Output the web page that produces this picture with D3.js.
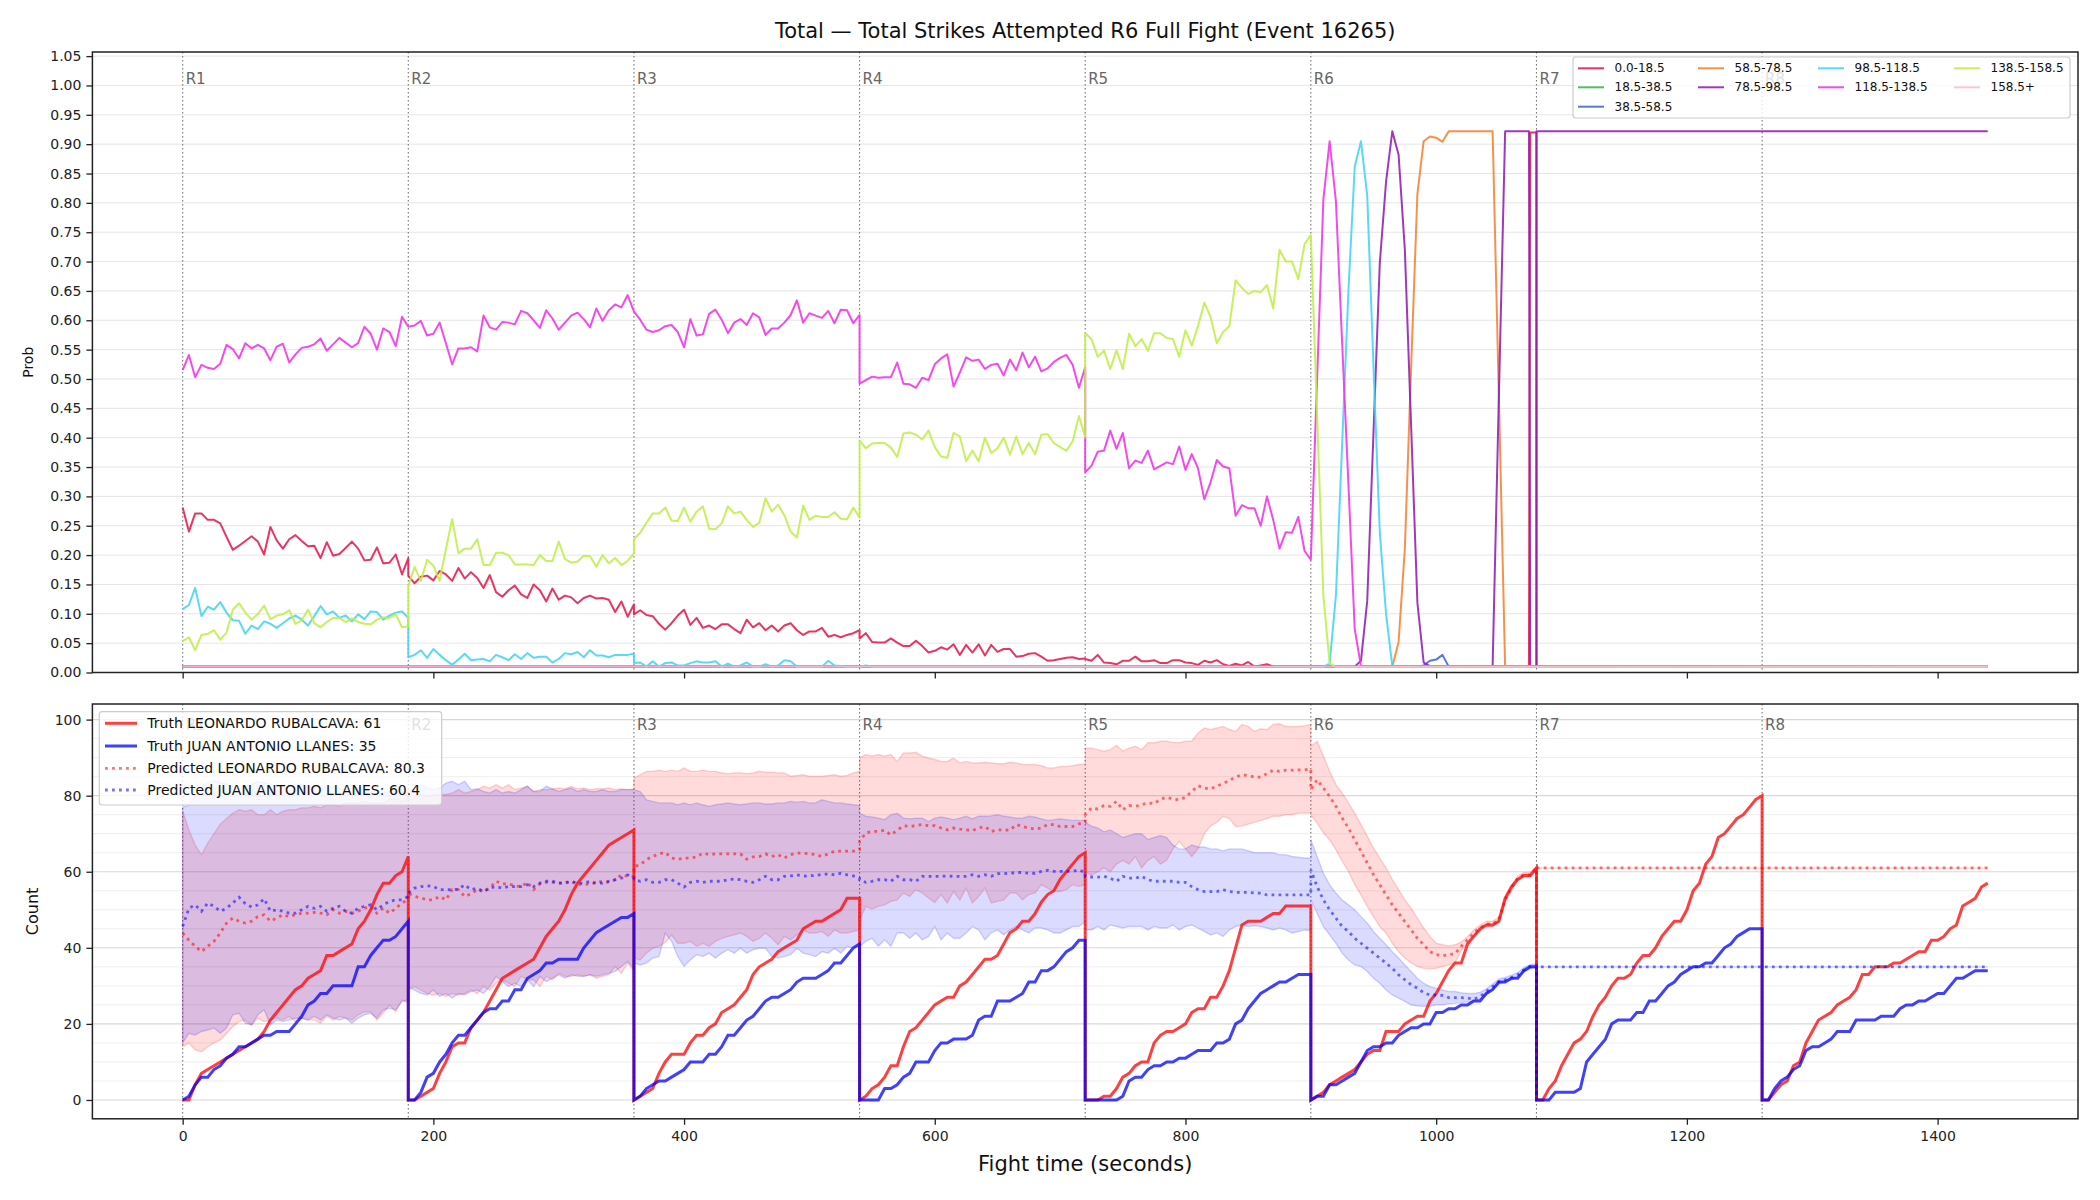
<!DOCTYPE html>
<html>
<head>
<meta charset="utf-8">
<script src="https://cdn.jsdelivr.net/npm/d3@7"></script>
<style>
  body { margin: 0; background: #fff; }
  svg { font-family: "DejaVu Sans", sans-serif; }
</style>
</head>
<body>
<svg id="chart" width="2100" height="1200"></svg>
<script>
// ---- data ----
const roundStarts = [0, 180, 360, 540, 720, 900, 1080, 1260];
const roundLabels = ["R1", "R2", "R3", "R4", "R5", "R6", "R7", "R8"];
const binLabels = ["0.0-18.5", "18.5-38.5", "38.5-58.5", "58.5-78.5", "78.5-98.5",
  "98.5-118.5", "118.5-138.5", "138.5-158.5", "158.5+"];
const binColors = ["#e6194b", "#3cb44b", "#4363d8", "#f58231", "#911eb4",
  "#42d4f4", "#f032e6", "#bfef45", "#fabed4"];
const xTicks = [0, 200, 400, 600, 800, 1000, 1200, 1400];
const probTicks = d3.range(0, 22).map(i => i * 0.05);
const countTicks = [0, 20, 40, 60, 80, 100];

// values every 5 s from a round start
const t5 = (t0, vals) => vals.map((v, i) => [t0 + 5 * i, v]);

// probability per bin
const probRed = [
  ...t5(0, [0.281,0.240,0.271,0.271,0.260,0.260,0.254,0.231,0.209,0.216,0.224,0.232,0.223,0.201,0.248,0.225,0.211,0.227,0.234,0.224,0.215,0.216,0.195,0.222,0.199,0.202,0.212,0.223,0.211,0.191,0.192,0.213,0.186,0.187,0.201,0.167,0.195]),
  ...t5(180, [0.165,0.152,0.163,0.165,0.157,0.173,0.167,0.156,0.178,0.160,0.171,0.161,0.144,0.166,0.137,0.129,0.140,0.148,0.133,0.127,0.150,0.140,0.121,0.143,0.124,0.131,0.128,0.118,0.127,0.131,0.126,0.127,0.124,0.103,0.121,0.095,0.116]),
  ...t5(360, [0.099,0.106,0.098,0.096,0.083,0.073,0.084,0.097,0.107,0.081,0.093,0.076,0.080,0.074,0.082,0.082,0.074,0.067,0.090,0.077,0.084,0.072,0.080,0.070,0.080,0.084,0.072,0.064,0.070,0.070,0.076,0.061,0.064,0.060,0.064,0.067,0.072]),
  ...t5(540, [0.058,0.067,0.052,0.051,0.051,0.058,0.051,0.045,0.045,0.054,0.045,0.034,0.037,0.043,0.039,0.048,0.030,0.047,0.034,0.048,0.029,0.047,0.035,0.040,0.040,0.027,0.028,0.032,0.033,0.027,0.020,0.021,0.023,0.025,0.026,0.023,0.024]),
  ...t5(720, [0.023,0.020,0.030,0.017,0.016,0.014,0.020,0.020,0.027,0.019,0.019,0.021,0.016,0.016,0.021,0.021,0.017,0.016,0.013,0.020,0.017,0.021,0.014,0.011,0.015,0.012,0.018,0.010,0.012,0.014,0.010,0.010,0.010,0.010,0.010,0.010,0.010]),
  [1074, 0.01], [1075, 0.92], [1080, 0.92], [1080, 0.01], [1440, 0.01]
];
const probGreen = [[0, 0.01], [1440, 0.01]];
const probBlue = [[0, 0.01], [985, 0.01], [990, 0.012], [995, 0.02], [1000, 0.022], [1005, 0.03], [1010, 0.01], [1440, 0.01]];
const probOrange = [[0, 0.01], [965, 0.01], [970, 0.052], [975, 0.211], [980, 0.52], [985, 0.815], [990, 0.905],
  [995, 0.913], [1000, 0.911], [1005, 0.904], [1010, 0.922], [1045, 0.922], [1050, 0.47], [1055, 0.01], [1440, 0.01]];
const probPurple = [[0, 0.01], [935, 0.01], [940, 0.02], [945, 0.122], [950, 0.41], [955, 0.697], [960, 0.836],
  [965, 0.922], [970, 0.882], [975, 0.72], [980, 0.42], [985, 0.119], [990, 0.017], [995, 0.011], [1045, 0.01],
  [1050, 0.47], [1055, 0.922], [1074, 0.922], [1075, 0.01], [1080, 0.01], [1080, 0.922], [1440, 0.922]];
const probCyan = [
  ...t5(0, [0.108,0.115,0.144,0.096,0.112,0.107,0.120,0.102,0.089,0.088,0.066,0.080,0.074,0.087,0.083,0.076,0.084,0.092,0.097,0.090,0.080,0.096,0.113,0.099,0.104,0.093,0.097,0.087,0.099,0.091,0.104,0.103,0.090,0.097,0.102,0.104,0.093]),
  ...t5(180, [0.026,0.030,0.038,0.025,0.040,0.030,0.021,0.013,0.022,0.032,0.021,0.022,0.023,0.019,0.030,0.026,0.021,0.031,0.023,0.033,0.025,0.027,0.027,0.017,0.023,0.033,0.031,0.035,0.026,0.038,0.029,0.029,0.026,0.030,0.030,0.030,0.032]),
  ...t5(360, [0.016,0.017,0.010,0.019,0.010,0.016,0.017,0.012,0.012,0.016,0.019,0.017,0.017,0.019,0.010,0.015,0.010,0.012,0.017,0.010,0.010,0.014,0.010,0.012,0.021,0.019,0.010,0.010,0.010,0.010,0.010,0.020,0.012,0.011,0.010,0.010,0.010]),
  [545, 0.012], [550, 0.01], [910, 0.01], [915, 0.015], [920, 0.131], [925, 0.39], [930, 0.651], [935, 0.861],
  [940, 0.905], [945, 0.812], [950, 0.52], [955, 0.239], [960, 0.10], [965, 0.011], [1440, 0.01]
];
const probMagenta = [
  ...t5(0, [0.515,0.541,0.503,0.524,0.519,0.517,0.526,0.558,0.551,0.535,0.561,0.552,0.558,0.552,0.532,0.555,0.560,0.528,0.542,0.553,0.555,0.559,0.569,0.548,0.559,0.570,0.562,0.554,0.561,0.589,0.577,0.550,0.586,0.580,0.556,0.606,0.589]),
  ...t5(180, [0.589,0.591,0.599,0.574,0.577,0.596,0.561,0.525,0.552,0.552,0.554,0.547,0.608,0.588,0.584,0.597,0.596,0.593,0.616,0.612,0.600,0.587,0.617,0.603,0.584,0.596,0.608,0.613,0.602,0.588,0.620,0.599,0.617,0.627,0.622,0.643,0.615]),
  ...t5(360, [0.615,0.601,0.584,0.580,0.583,0.590,0.592,0.580,0.554,0.602,0.574,0.576,0.611,0.618,0.601,0.578,0.596,0.602,0.592,0.612,0.605,0.575,0.586,0.586,0.596,0.609,0.634,0.596,0.612,0.608,0.604,0.616,0.595,0.618,0.617,0.595,0.609]),
  ...t5(540, [0.492,0.498,0.504,0.502,0.503,0.503,0.528,0.492,0.491,0.485,0.502,0.498,0.525,0.535,0.542,0.487,0.511,0.537,0.531,0.533,0.517,0.524,0.526,0.506,0.533,0.515,0.545,0.520,0.538,0.513,0.518,0.529,0.536,0.541,0.524,0.485,0.520]),
  ...t5(720, [0.341,0.352,0.376,0.378,0.412,0.381,0.408,0.348,0.361,0.357,0.378,0.346,0.352,0.358,0.355,0.385,0.345,0.372,0.348,0.295,0.324,0.362,0.351,0.348,0.267,0.285,0.280,0.280,0.250,0.300,0.260,0.211,0.239,0.238,0.265,0.207,0.192]),
  [905, 0.50], [910, 0.806], [915, 0.905], [920, 0.803], [925, 0.56], [930, 0.32], [935, 0.074], [940, 0.011], [1440, 0.01]
];
const probLime = [
  ...t5(0, [0.053,0.060,0.038,0.064,0.066,0.072,0.056,0.068,0.107,0.118,0.102,0.090,0.100,0.114,0.091,0.097,0.099,0.106,0.083,0.089,0.107,0.084,0.077,0.086,0.093,0.093,0.086,0.092,0.086,0.083,0.082,0.090,0.094,0.093,0.099,0.077,0.079]),
  ...t5(180, [0.147,0.180,0.156,0.192,0.182,0.156,0.210,0.261,0.203,0.211,0.211,0.227,0.183,0.183,0.204,0.204,0.200,0.184,0.184,0.184,0.183,0.200,0.190,0.190,0.223,0.193,0.187,0.189,0.199,0.198,0.180,0.200,0.186,0.195,0.183,0.190,0.203]),
  ...t5(360, [0.227,0.238,0.255,0.271,0.271,0.281,0.259,0.258,0.281,0.257,0.274,0.283,0.245,0.244,0.254,0.283,0.271,0.274,0.260,0.248,0.255,0.297,0.274,0.286,0.268,0.240,0.230,0.284,0.260,0.267,0.265,0.265,0.273,0.262,0.261,0.281,0.264]),
  ...t5(540, [0.395,0.382,0.390,0.391,0.391,0.383,0.367,0.407,0.409,0.405,0.397,0.412,0.384,0.368,0.366,0.408,0.402,0.360,0.378,0.360,0.400,0.374,0.382,0.400,0.371,0.402,0.372,0.391,0.372,0.405,0.406,0.391,0.384,0.378,0.394,0.437,0.401]),
  ...t5(720, [0.578,0.568,0.538,0.548,0.517,0.549,0.517,0.577,0.556,0.568,0.548,0.578,0.578,0.570,0.568,0.538,0.583,0.557,0.590,0.630,0.606,0.561,0.580,0.590,0.668,0.655,0.645,0.650,0.648,0.660,0.620,0.720,0.700,0.700,0.670,0.730,0.745]),
  [905, 0.44], [910, 0.131], [915, 0.015], [920, 0.01], [1440, 0.01]
];
const probPink = [[0, 0.01], [1440, 0.01]];
const probSeries = [probRed, probGreen, probBlue, probOrange, probPurple, probCyan, probMagenta, probLime, probPink];

// truth counts per round (every 5 s)
const truthRedRounds = [
  [0,0,4,7,8,9,10,11,12,13,14,15,16,18,21,23,25,27,29,30,32,33,34,38,38,39,40,41,45,47,50,54,57,57,59,60,64],
  [0,0,1,2,3,7,10,14,15,15,19,21,23,26,29,32,33,34,35,36,37,40,43,45,47,50,54,57,59,61,63,65,67,68,69,70,71],
  [0,1,2,3,7,10,12,12,12,15,17,17,19,20,23,24,25,27,29,33,35,36,37,39,40,41,42,45,46,47,47,48,49,50,53,53,53],
  [0,1,3,4,6,9,9,14,18,19,21,23,25,26,27,27,30,31,33,35,37,37,38,41,44,45,47,47,49,52,54,55,58,60,62,64,65],
  [0,0,0,1,1,3,6,7,9,10,10,15,17,18,18,19,20,23,24,24,27,27,30,34,40,46,47,47,47,48,49,49,51,51,51,51,51],
  [0,1,2,4,5,6,7,8,10,12,13,13,18,18,18,20,21,22,22,26,28,31,34,36,36,41,43,45,46,46,47,53,56,58,59,59,61],
  [0,0,3,5,9,12,15,16,18,22,25,27,30,32,32,33,36,38,38,40,43,45,47,47,50,55,57,62,64,69,70,72,74,75,77,79,80],
  [0,0,2,4,5,9,10,15,18,21,22,23,25,26,27,29,33,33,35,35,35,36,36,37,38,39,39,42,42,43,45,46,51,52,53,56,57]
];
const truthBlueRounds = [
  [0,1,4,6,6,8,9,11,12,14,14,15,16,17,17,18,18,18,20,22,25,26,28,28,30,30,30,30,35,35,38,40,42,42,43,45,47],
  [0,0,2,6,7,10,12,15,17,17,19,21,23,24,24,26,26,29,29,32,33,34,36,36,37,37,37,37,40,42,44,45,46,47,48,48,49],
  [0,1,3,4,5,5,6,7,8,10,10,10,12,12,14,17,17,19,21,22,24,26,27,27,28,29,31,32,32,32,33,34,36,36,38,40,41],
  [0,0,0,0,3,3,4,6,7,10,10,10,13,15,15,16,16,16,17,21,22,22,26,26,26,27,28,31,31,34,34,35,37,39,40,42,42],
  [0,0,0,0,0,0,1,5,6,6,8,9,9,10,10,11,11,12,13,13,13,15,15,16,20,21,24,26,28,29,30,31,31,32,33,33,33],
  [0,1,1,4,4,5,6,7,10,13,14,14,15,15,17,18,19,19,20,20,23,23,24,24,25,25,26,26,28,29,31,31,32,32,34,35,35],
  [0,0,0,2,2,2,2,3,10,12,14,16,20,21,21,21,23,23,26,26,28,30,31,33,34,35,35,36,36,38,40,41,43,44,45,45,45],
  [0,0,3,5,6,8,9,13,14,14,15,16,18,18,18,21,21,21,21,22,22,22,24,25,25,26,26,27,28,28,30,32,32,33,34,34,34]
];

// predictions and bands, rounds 1-6, then fixed after the fight
const predRedRounds = [
  [43.9,42,40.4,39,40.4,41.7,43.9,46.5,47.8,47,46.5,47,48.2,48.7,47,47.8,48.7,48.2,48.7,49.1,49.1,49.3,49.1,48.7,50,49.1,49.6,49.1,49.6,50.4,50.9,49.1,50.4,49.1,50.4,51.8,52.6],
  [54.4,53.5,53.1,52.6,52.6,53.5,52.6,55.3,55.3,53.5,54.2,55.3,54.8,55.7,57.5,56.8,56.8,56.3,56.1,57.2,55.3,56.8,57.2,57.2,57,57.2,57.5,56.6,56.8,56.6,57.2,57.5,57.2,57.9,59.2,58.8,58.8],
  [61.4,61.8,63.2,64,64.7,65.1,63.6,63.3,63.6,63.6,63.9,64.9,64.5,64.7,64.7,64.7,64.7,64.7,63.3,63.9,64,64.7,64,64.5,63.6,64.5,64.9,64.9,64.7,64.5,64,64.7,65.4,65.4,65.4,65.4,65.8],
  [68,70.2,70.6,70.6,70.9,69.7,70.9,72.1,71.9,72.1,72.4,72.1,72.1,71.5,71,71.5,71.2,71,70.8,71.5,71.9,70.6,71,71,70.9,72.4,71.9,71.5,71.2,71.5,72.4,72.4,71.9,71.9,71.9,72.6,73],
  [75,76.8,76.5,77.4,77.2,78.5,76.3,77.4,77.2,77.6,78.1,77.9,79.1,79.6,79.1,78.9,79.6,81.1,82.6,82,81.8,82.5,83.2,84,84.9,85.5,85.3,84.9,84.9,85.8,86.7,86.4,86.7,86.7,86.8,86.8,87],
  [81.6,84.2,82,79.8,77.2,74.1,71.5,68.4,65.4,62.3,59.2,56.6,53.9,51.3,49.1,46.9,44.7,42.5,40.8,39,38.2,37.9,38.2,38.4,40.4,42.1,43.9,45.2,46.3,46.3,47.4,52.6,55.7,58.3,59.2,59.2,61]
];
const predBlueRounds = [
  [45.6,50.4,51.3,49.6,51.8,50.9,49.6,50.4,51.8,53.3,51.6,50.7,51.3,52.9,49.6,50,49.6,49.1,49.1,50,50.9,50.4,50.9,49.6,50.4,50.9,49.6,49.1,50.4,50.9,51.3,50,51.3,52.2,52.6,52.6,53.5],
  [54.4,55.7,56.1,56.3,56.1,55.3,55.3,55.3,55.4,56.6,55.3,55.7,54.8,55.7,56.1,55.7,56.1,56.1,56.1,56.6,56.1,57,57.5,57.5,57,57,57.5,57,57,57.5,57,57,57.5,57.9,58.3,59.2,58.3],
  [57.9,57.5,57.9,57.2,57.2,57.9,57.9,57,56,57.2,57.5,57.2,57.5,57.5,57.5,57.9,58.1,57.9,57.5,57.2,57.9,58.8,57.9,57.9,58.8,58.9,59.2,58.9,58.8,59.2,59.2,59.5,59.2,59.6,59.2,58.9,58.3],
  [57.9,57.2,57.5,57.9,57.9,57.5,58.8,57.9,57.9,57.5,58.8,58.8,58.8,58.8,58.9,58.8,58.8,58.8,59.2,58.8,59.2,58.8,59.5,59.5,59.6,59.8,59.8,59.6,59.6,60.1,60.4,60.1,60.1,60.1,60.1,60.5,59.8],
  [58.8,58.6,58.6,58.8,58.3,57.5,58.8,58.3,58.3,58.8,57.9,57.5,57.5,57.5,57.5,57.2,57.2,56.1,55.3,54.8,54.8,54.8,55.3,54.8,54.6,54.6,54.6,54.4,54.4,53.9,53.9,53.9,53.9,53.9,53.9,53.9,53.9],
  [60.5,56.1,52.6,50,47.8,45.6,44.3,42.5,41.2,39.9,38.6,37.3,36,34.6,32.9,31.6,30.3,29.4,28.2,27.6,27.6,27.5,26.9,26.9,26.9,26.8,26.5,27.2,28.5,29.8,31.1,31.6,32.2,32.9,34.2,35.1,35.3]
];
const redHiRounds = [
  [76,71,67,64.5,67.5,70,72.5,74,75.4,76.3,75.9,76.3,75,75,76.3,75,75.9,76.3,76.3,76.8,76.8,77.2,76.8,77.6,77.6,77.2,78.1,78.1,78.1,78.5,78.1,78.1,78.1,78.9,79.4,78.5,79.4],
  [79,79.8,80.3,79.8,80.3,80.3,80.3,80.7,81.6,80.7,81.1,81.6,82.5,82,82.9,82,82.9,81.6,82,82.5,81.1,81.6,81.6,81.8,82,81.8,82.5,81.8,82,81.6,81.8,81.8,82,81.6,81.8,81.6,81.8],
  [84.6,85.5,86.4,86.4,86.7,86.4,86.7,86.4,87.3,86.4,86.4,86.7,86.4,86.4,86,85.8,86,86,85.8,86,86.4,86.2,86.2,86,86,85.1,85.3,85.5,85.1,85.1,85.1,85.3,85.5,85.1,85.3,86,86.4],
  [89.9,90.8,90.4,90.8,90.4,90.8,89,91.2,91.2,91.4,90.4,89.9,89.5,89,89,89.9,88.6,89,88.6,88.6,88.8,88.6,88.4,88.4,88.8,88.6,88.2,88.2,88.2,87.9,87.3,87.3,87.7,87.7,87.9,88.2,88.4],
  [92.5,92.5,92.1,91.7,92.1,93.2,91.7,92.5,93,92.1,93.9,93.9,94.3,94.3,94,93.9,94.3,94.3,96.5,97.8,97.4,97.8,98.2,97.4,96.9,98.7,98.2,96.9,97.6,97.4,98.7,98.9,98.2,98.2,98.2,98.4,98.7],
  [93,94.3,90.4,86.4,82.9,80.7,78.1,75.4,72.4,69.3,66.2,63.6,61,57.9,55.3,52.6,50.4,47.8,45.2,43,41.2,40.8,40.5,40.8,41.5,43,44.7,46,47,47,48,53.2,56.3,58.9,59.8,59.8,61.4]
];
const redLoRounds = [
  [14,15,13.2,12.7,14,15,15.8,17.5,19.3,20.6,21,19.7,21.5,20.6,21,21.5,21,22,20.6,21.5,21,21,20.2,22,21,22,21.5,21,22.4,23.2,23.2,21,22.8,25,23.2,26.3,25.4],
  [28.9,29.8,28.9,28,27.6,28,27.2,28,27.6,28,28.9,28,29.8,28.9,30.7,31.6,30.7,29.8,32.5,31.6,31.6,29.8,32.5,31.6,33.3,32.5,32.5,32.9,32.5,32.9,32,32.5,32.9,35.1,33.3,36,33.8],
  [37.3,36.8,38.6,39.9,40.4,41.4,43.4,41.2,41.2,41.7,40.4,41.2,40.4,41.7,42.5,43,43.4,43.9,43,41.7,42.5,43.9,42.5,40.8,43,42.1,43.4,44.7,43.9,43.9,44.3,43,44.7,43.9,43.9,44.3,44.7],
  [47.4,50.9,50.2,50.9,51.3,52.2,52.6,54.4,53.5,55.3,54.4,53.1,51.9,54,51.8,54.8,52.6,55.7,51.8,53.5,55.7,51.8,52.2,52.6,54.4,54.4,52.6,54,54.4,56.6,55.7,54.8,54.8,55.3,56.6,56.1,56.6],
  [60,59,60,61,60,62,63,62,64,61,63,64,62,63,66,68,66,64,66,70,72,73,74.6,74,71.9,72,72.5,73,73.5,74,74.6,74.6,75,75,75.4,75.4,75.4],
  [75,72.8,70.2,68.4,65.8,62.8,60.1,56.6,53.9,50.9,48.2,45.6,43.9,41.2,39,37.3,36,35.1,34.6,34.4,34.6,35.1,35.5,36,39.3,41.2,43.1,44.4,45.6,45.6,46.8,52,55.1,57.7,58.6,58.6,60.6]
];
const blueHiRounds = [
  [77,77.5,80,82,83.5,84,83.5,83,82.5,82,82.5,83,83.8,83.5,83,82.5,82,82.5,83,83,82.5,82,82.5,82,82.5,82,81.5,82,82,81.5,81,81.5,81,81,80.5,81,80.7],
  [80.7,82,82.9,82,81.6,82,83.3,83.8,82.9,83.8,81.6,81.8,81.1,80.7,81.6,80.7,81.1,80.7,81.6,82.5,81.1,81.1,82.5,81.8,81.1,81.6,82,81.1,81.6,81.1,81.1,81.6,81.1,81.1,81.6,81.6,81.6],
  [81.6,81.1,78.9,78.5,78.1,78.1,78.1,77.6,78.1,77.6,78.1,77.6,77.2,77.6,77.8,78.1,77.8,77.6,77.8,78.1,78.1,77.8,77.8,78.1,78.1,78.5,78.3,78.5,78.1,78.1,78.9,78.5,78.1,78.1,77.8,77.6,77.4],
  [75.4,74.6,74.4,74.1,73.7,75,75.4,74.1,73.9,74.1,74.1,73.2,74.1,74.4,74.1,73.7,74.1,74.6,73.9,74.6,74.6,74.7,75,74.6,74.4,74.1,74.1,74.6,74.4,73.9,73.5,73.7,73.9,73.7,73.5,73.5,73.5],
  [73,72,71.5,70.5,71,70,69,69.5,70,70,68.5,69,69.5,69,67,66,66,67,66.5,66.5,66,66,65.5,66,66,66,65.5,65,65,65,65,64.5,64.5,64,63.8,63.6,63.6],
  [68.4,64,59.6,56.6,54.4,52.6,51.3,50,48.2,46.5,44.3,42.5,40.8,39,37.3,35.5,33.8,32,30.7,29.8,29.4,28.9,28.5,28.5,28.2,28,28,28.3,29.2,30.5,31.8,32.2,32.8,33.5,34.8,35.6,35.8]
];
const blueLoRounds = [
  [15,17.5,17.1,18,18.4,18.9,17.5,18.9,22.4,22.8,20.2,19.7,22.4,23.7,19.7,21,20.6,21,21.5,21.5,21,22,21,22.4,21.5,21,21.5,20.2,21.5,22.4,22.8,21.5,23.7,24.1,23.7,25.9,26.3],
  [29.8,28.9,28,27.6,28.9,27.2,28,26.8,28,27.6,28.5,28.9,28,29.8,32.5,31.1,29.8,30.7,29.8,31.6,29.8,32.5,31.1,32,32.9,32,32.9,32.5,32.5,32.9,32.5,32.9,33.3,33.8,35.1,36.4,34.6],
  [36,35.5,36,37.3,37.7,43.9,41.7,37.7,35.1,36.8,38.2,37.7,38.6,37.3,38.6,39.5,38.6,39.9,38.6,39.5,39.9,39.9,37.7,37.3,37.7,38.2,39.9,38.6,38.2,37.7,39,38.6,39.9,38.6,40.4,39.9,40.4],
  [40.4,41.7,42.5,40.4,42.1,40.4,43.9,43.9,42.5,43.9,42.1,43,45.6,42.1,43.9,42.5,42.5,43.9,45.6,44.7,42.1,43.9,44.7,43.4,44.7,45.6,44.7,43.9,45.2,45.2,44.7,43.9,43.9,44.7,45.6,45.6,46.9],
  [44.7,44.7,45.6,44.7,46,45.6,45.2,45.6,45.6,45.6,44.7,45.6,45.2,45.2,46,44.7,45.6,46,45.2,44.3,43.4,43.9,43,44.7,45.6,46,45.6,45.8,45.6,45.2,44.7,45.2,44.7,43.9,44.3,44.7,44.5],
  [52.6,49.1,45.6,43.4,41.2,38.6,36.8,35.5,35.1,33.8,32,30.7,28.9,27.6,26.8,25.9,25,24.7,24.6,24.7,25,25,25.3,25.4,25.6,25.8,26,26.5,27.8,29.1,30.4,31,31.6,32.3,33.6,34.5,34.8]
];
const finalRed = 61;
const finalBlue = 35;

// ---- build series ----
const byRounds = rs => rs.flatMap((vals, k) => t5(roundStarts[k], vals));
const withFinal = (rs, f) => [...byRounds(rs), [1080, 0], [1080, f], [1440, f]];
const truthRed = byRounds(truthRedRounds);
const truthBlue = byRounds(truthBlueRounds);
const predRed = withFinal(predRedRounds, finalRed);
const predBlue = withFinal(predBlueRounds, finalBlue);
const zipBand = (lo, hi) => lo.map((d, i) => [d[0], d[1], hi[i][1]]);
const bandRed = zipBand(withFinal(redLoRounds, finalRed), withFinal(redHiRounds, finalRed));
const bandBlue = zipBand(withFinal(blueLoRounds, finalBlue), withFinal(blueHiRounds, finalBlue));

// ---- layout ----
const svg = d3.select("#chart");
const left = 92.4, right = 2078;
const top1 = { y0: 52, y1: 672.5 };
const top2 = { y0: 704, y1: 1118.8 };
const x = d3.scaleLinear().domain([-72, 1512]).range([left, right]);
const yP = d3.scaleLinear().domain([0, 1.057]).range([top1.y1, top1.y0]);
const yC = d3.scaleLinear().domain([-4.95, 104.1]).range([top2.y1, top2.y0]);

const defs = svg.append("defs");
[["clipTop", top1], ["clipBot", top2]].forEach(([id, p]) => {
  defs.append("clipPath").attr("id", id).append("rect")
    .attr("x", left).attr("y", p.y0).attr("width", right - left).attr("height", p.y1 - p.y0);
});

svg.append("text").attr("x", (left + right) / 2).attr("y", 38).attr("text-anchor", "middle")
  .attr("font-size", 21).attr("fill", "#111")
  .text("Total \u2014 Total Strikes Attempted R6 Full Fight (Event 16265)");

// ---- top panel ----
const gTop = svg.append("g");
gTop.selectAll("line.grid").data(probTicks).join("line")
  .attr("x1", left).attr("x2", right).attr("y1", d => yP(d)).attr("y2", d => yP(d))
  .attr("stroke", "#e5e5e5").attr("stroke-width", 1);

const topData = gTop.append("g").attr("clip-path", "url(#clipTop)");
roundStarts.forEach(r => {
  topData.append("line").attr("x1", x(r)).attr("x2", x(r)).attr("y1", top1.y0).attr("y2", top1.y1)
    .attr("stroke", "#555").attr("stroke-width", 1.1).attr("stroke-dasharray", "1.5,2.5").attr("opacity", 0.8);
});
const lineP = d3.line().x(d => x(d[0])).y(d => yP(d[1]));
probSeries.forEach((s, i) => {
  topData.append("path").attr("d", lineP(s)).attr("fill", "none")
    .attr("stroke", binColors[i]).attr("stroke-width", 2).attr("stroke-opacity", 0.88)
    .attr("stroke-linejoin", "round");
});
roundStarts.forEach((r, i) => {
  gTop.append("text").attr("x", x(r) + 3).attr("y", 84).attr("font-size", 15)
    .attr("fill", "#666").text(roundLabels[i]);
});

// ---- bottom panel ----
const gBot = svg.append("g");
d3.range(0, 105, 5).forEach(v => {
  gBot.append("line").attr("x1", left).attr("x2", right).attr("y1", yC(v)).attr("y2", yC(v))
    .attr("stroke", v % 20 === 0 ? "#d8d8d8" : "#ececec").attr("stroke-width", v % 20 === 0 ? 1.1 : 0.9);
});
const botData = gBot.append("g").attr("clip-path", "url(#clipBot)");
roundStarts.forEach(r => {
  botData.append("line").attr("x1", x(r)).attr("x2", x(r)).attr("y1", top2.y0).attr("y2", top2.y1)
    .attr("stroke", "#555").attr("stroke-width", 1.1).attr("stroke-dasharray", "1.5,2.5").attr("opacity", 0.8);
});
const area = d3.area().x(d => x(d[0])).y0(d => yC(d[1])).y1(d => yC(d[2]));
const lineC = d3.line().x(d => x(d[0])).y(d => yC(d[1]));
[[bandRed, "#ff0000"], [bandBlue, "#0000ff"]].forEach(([b, c]) => {
  botData.append("path").attr("d", area(b)).attr("fill", c).attr("fill-opacity", 0.14)
    .attr("stroke", c).attr("stroke-opacity", 0.16).attr("stroke-width", 1.4);
});
botData.append("path").attr("d", lineC(truthRed)).attr("fill", "none")
  .attr("stroke", "#ff0000").attr("stroke-opacity", 0.75).attr("stroke-width", 3);
botData.append("path").attr("d", lineC(truthBlue)).attr("fill", "none")
  .attr("stroke", "#0000ff").attr("stroke-opacity", 0.75).attr("stroke-width", 3);
botData.append("path").attr("d", lineC(predRed)).attr("fill", "none")
  .attr("stroke", "#ff0000").attr("stroke-opacity", 0.55).attr("stroke-width", 2.8)
  .attr("stroke-dasharray", "2.8,4.2");
botData.append("path").attr("d", lineC(predBlue)).attr("fill", "none")
  .attr("stroke", "#0000ff").attr("stroke-opacity", 0.55).attr("stroke-width", 2.8)
  .attr("stroke-dasharray", "2.8,4.2");
roundStarts.forEach((r, i) => {
  gBot.append("text").attr("x", x(r) + 3).attr("y", 730).attr("font-size", 15)
    .attr("fill", "#666").text(roundLabels[i]);
});

// ---- frames & axes ----
[top1, top2].forEach(p => {
  svg.append("rect").attr("x", left).attr("y", p.y0).attr("width", right - left).attr("height", p.y1 - p.y0)
    .attr("fill", "none").attr("stroke", "#222").attr("stroke-width", 1.5);
});
function styleAxis(g) {
  g.select(".domain").remove();
  g.selectAll(".tick line").attr("stroke", "#222").attr("stroke-width", 1.3);
  g.selectAll(".tick text").attr("fill", "#222").attr("font-size", 14).attr("font-family", "DejaVu Sans");
}
svg.append("g").attr("transform", `translate(${left},0)`)
  .call(d3.axisLeft(yP).tickValues(probTicks).tickFormat(d3.format(".2f")).tickSize(6).tickPadding(5))
  .call(styleAxis);
svg.append("g").attr("transform", `translate(0,${top1.y1})`)
  .call(d3.axisBottom(x).tickValues(xTicks).tickFormat("").tickSize(6))
  .call(styleAxis);
svg.append("g").attr("transform", `translate(${left},0)`)
  .call(d3.axisLeft(yC).tickValues(countTicks).tickSize(6).tickPadding(5))
  .call(styleAxis);
svg.append("g").attr("transform", `translate(0,${top2.y1})`)
  .call(d3.axisBottom(x).tickValues(xTicks).tickFormat(d3.format("d")).tickSize(6).tickPadding(6))
  .call(styleAxis);

svg.append("text").attr("transform", `translate(28,${(top1.y0 + top1.y1) / 2}) rotate(-90)`)
  .attr("text-anchor", "middle").attr("dominant-baseline", "central").attr("font-size", 14)
  .attr("fill", "#111").text("Prob");
svg.append("text").attr("transform", `translate(32,${(top2.y0 + top2.y1) / 2}) rotate(-90)`)
  .attr("text-anchor", "middle").attr("dominant-baseline", "central").attr("font-size", 16)
  .attr("fill", "#111").text("Count");
svg.append("text").attr("x", (left + right) / 2).attr("y", 1171).attr("text-anchor", "middle")
  .attr("font-size", 21).attr("fill", "#111").text("Fight time (seconds)");

// ---- legends ----
const legTop = svg.append("g");
legTop.append("rect").attr("x", 1573).attr("y", 57).attr("width", 497).attr("height", 61).attr("rx", 3)
  .attr("fill", "#fff").attr("fill-opacity", 0.8).attr("stroke", "#cccccc").attr("stroke-width", 1.2);
const colX = [1578, 1698, 1818, 1954];
const rowY = [68.3, 87.3, 106.7];
const colOf = [0, 0, 0, 1, 1, 2, 2, 3, 3];
const rowOf = [0, 1, 2, 0, 1, 0, 1, 0, 1];
binLabels.forEach((lab, i) => {
  const cx = colX[colOf[i]], cy = rowY[rowOf[i]];
  legTop.append("line").attr("x1", cx).attr("x2", cx + 26).attr("y1", cy).attr("y2", cy)
    .attr("stroke", binColors[i]).attr("stroke-width", 2).attr("stroke-opacity", 0.88);
  legTop.append("text").attr("x", cx + 36.5).attr("y", cy).attr("dominant-baseline", "central")
    .attr("font-size", 12).attr("fill", "#111").text(lab);
});

const legBot = svg.append("g");
legBot.append("rect").attr("x", 99.3).attr("y", 711.7).attr("width", 342.4).attr("height", 93.3).attr("rx", 3)
  .attr("fill", "#fff").attr("fill-opacity", 0.8).attr("stroke", "#cccccc").attr("stroke-width", 1.2);
const botEntries = [
  { label: `Truth LEONARDO RUBALCAVA: ${finalRed}`, color: "#ff0000", dotted: false },
  { label: `Truth JUAN ANTONIO LLANES: ${finalBlue}`, color: "#0000ff", dotted: false },
  { label: "Predicted LEONARDO RUBALCAVA: 80.3", color: "#ff0000", dotted: true },
  { label: "Predicted JUAN ANTONIO LLANES: 60.4", color: "#0000ff", dotted: true }
];
const botRowY = [723.3, 746, 768.3, 790];
botEntries.forEach((e, i) => {
  const ly = botRowY[i];
  legBot.append("line").attr("x1", 105).attr("x2", 137).attr("y1", ly).attr("y2", ly)
    .attr("stroke", e.color).attr("stroke-opacity", e.dotted ? 0.55 : 0.75)
    .attr("stroke-width", e.dotted ? 2.8 : 3).attr("stroke-dasharray", e.dotted ? "2.8,4.2" : null);
  legBot.append("text").attr("x", 147.3).attr("y", ly).attr("dominant-baseline", "central")
    .attr("font-size", 14).attr("fill", "#111").text(e.label);
});
</script>
</body>
</html>
